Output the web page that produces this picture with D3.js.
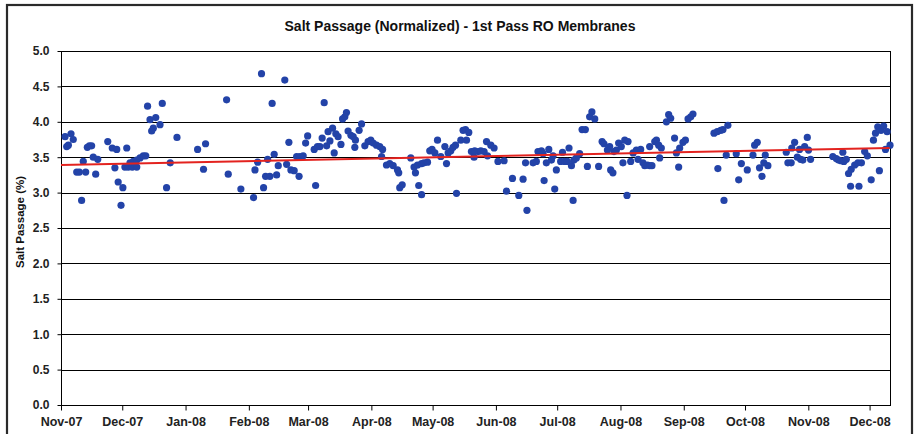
<!DOCTYPE html>
<html><head><meta charset="utf-8">
<script src="https://cdn.jsdelivr.net/npm/d3@7"></script>
<style>
body{margin:0;background:#fff;}
text{font-family:"Liberation Sans",Arial,sans-serif;}
</style>
</head><body>
<svg id="chart" width="915" height="434"></svg>
<script>
// ---- data ----
const chartTitle = "Salt Passage (Normalized) - 1st Pass RO Membranes";
const yAxisTitle = "Salt Passage (%)";
const startDate = new Date(2007, 10, 1);
const endDate = new Date(2008, 11, 11);
const monthLabels = ["Nov-07","Dec-07","Jan-08","Feb-08","Mar-08","Apr-08","May-08","Jun-08","Jul-08","Aug-08","Sep-08","Oct-08","Nov-08","Dec-08"];
const yTickValues = [0,0.5,1,1.5,2,2.5,3,3.5,4,4.5,5];
// days since 1 Nov 2007
const dayOffset = [
2.0,4.9,6.0,3.6,2.8,10.9,7.7,9.0,12.1,10.1,12.9,13.9,15.0,15.8,18.0,17.0,22.9,25.1,27.3,26.4,28.0,30.3,29.4,32.2,31.3,32.9,34.9,37.1,33.8,35.4,37.1,38.7,40.3,41.5,42.4,43.6,46.4,45.2,44.4,48.5,49.6,51.7,53.5,56.8,66.9,70.8,69.8,81.1,81.9,88.1,94.3,98.2,95.0,96.3,99.2,100.2,101.2,103.4,
102.3,109.6,104.4,105.6,106.4,110.5,111.6,112.6,114.2,115.4,116.6,117.0,118.6,119.8,120.8,124.0,124.7,125.6,126.8,127.9,128.9,130.1,130.8,131.7,133.0,133.8,134.6,135.7,137.1,137.9,139.0,139.8,140.6,142.0,143.1,144.2,143.9,146.0,147.2,148.8,150.4,151.7,152.9,154.5,156.1,157.5,157.0,159.4,161.0,162.7,164.8,165.4,165.9,167.1,171.3,172.9,173.6,175.2,176.6,174.6,176.6,177.8,179.5,180.6,181.7,183.1,184.4,186.0,188.0,188.8,189.6,190.9,192.0,193.2,193.7,195.8,196.9,198.1,199.7,198.6,201.0,202.3,204.3,
202.6,205.6,207.2,208.9,208.4,210.5,212.1,214.0,217.0,218.2,221.1,224.2,226.3,227.5,228.2,231.2,232.8,233.6,235.3,236.1,236.6,237.7,238.9,240.2,241.0,241.8,242.6,244.7,245.6,246.7,248.0,248.8,250.0,251.2,250.8,252.4,254.0,255.2,256.8,257.8,258.9,260.0,261.4,263.3,265.0,265.9,267.6,268.7,269.2,270.3,270.8,272.0,273.1,274.4,275.2,276.1,277.7,277.2,279.0,280.2,281.8,282.6,283.9,285.0,285.9,287.2,288.3,289.4,288.3,290.8,291.6,292.7,294.0,293.2,296.5,297.6,298.6,300.5,301.4,302.5,303.0,304.6,305.8,307.1,
308.4,309.5,319.8,321.4,323.1,324.2,326.6,321.7,324.7,325.8,330.7,331.9,333.2,336.1,338.9,339.7,341.0,342.1,343.3,344.2,346.2,344.9,355.2,356.0,357.6,357.9,359.3,360.6,361.7,362.2,363.3,364.2,365.5,366.1,367.1,378.0,379.7,380.8,382.1,383.4,384.6,382.9,385.7,387.0,388.7,390.3,392.0,386.7,390.8,393.6,394.9,396.8,397.9,398.9,400.0,401.6,402.9,404.6,400.8,403.8,406.0
];
const saltPassage = [
3.79,3.83,3.75,3.67,3.65,3.44,3.29,3.29,3.29,2.89,3.64,3.66,3.66,3.50,3.47,3.26,3.72,3.63,3.61,3.35,3.15,3.07,2.82,3.63,3.36,3.36,3.36,3.36,3.42,3.44,3.46,3.49,3.52,3.52,4.22,4.03,4.06,3.91,3.87,3.96,4.26,3.07,3.42,3.78,3.61,3.69,3.33,4.31,3.26,3.05,2.93,4.68,3.32,3.43,3.07,3.23,3.47,4.26,
3.23,4.59,3.54,3.25,3.38,3.40,3.71,3.32,3.31,3.51,3.23,3.51,3.52,3.70,3.80,3.61,3.10,3.65,3.65,3.77,4.27,3.66,3.86,3.73,3.91,3.56,3.83,3.79,3.68,4.04,4.07,4.13,3.87,3.81,3.79,3.74,3.64,3.88,3.97,3.66,3.72,3.74,3.70,3.67,3.65,3.61,3.51,3.39,3.41,3.38,3.32,3.28,3.07,3.11,3.49,3.36,3.28,3.10,2.97,3.39,3.41,3.42,3.43,3.59,3.61,3.56,3.74,3.51,3.65,3.41,3.56,3.59,3.64,3.67,2.99,3.74,3.88,3.89,3.85,3.74,3.58,3.50,3.58,
3.59,3.59,3.58,3.52,3.72,3.67,3.63,3.44,3.45,3.02,3.20,2.96,3.19,3.42,2.75,3.42,3.44,3.58,3.59,3.55,3.17,3.42,3.61,3.46,3.52,3.05,3.32,3.44,3.57,3.44,3.44,3.63,3.38,3.46,2.89,3.49,3.55,3.89,3.89,3.37,4.07,4.14,4.04,3.37,3.72,3.69,3.60,3.65,3.32,3.28,3.58,3.60,3.70,3.65,3.42,3.74,3.72,2.96,3.44,3.56,3.60,3.47,3.61,3.42,3.38,3.39,3.38,3.38,3.65,3.72,3.74,3.67,3.63,3.49,4.00,4.10,4.05,3.77,3.56,3.36,3.63,3.71,3.74,4.04,
4.07,4.11,3.84,3.86,3.88,3.89,3.95,3.34,2.89,3.53,3.55,3.18,3.41,3.32,3.53,3.67,3.71,3.35,3.23,3.42,3.38,3.53,3.57,3.42,3.42,3.63,3.71,3.50,3.61,3.47,3.46,3.65,3.78,3.60,3.47,3.51,3.48,3.46,3.45,3.44,3.47,3.57,3.27,3.33,3.39,3.42,3.42,3.09,3.09,3.58,3.52,3.18,3.74,3.84,3.93,3.88,3.94,3.86,3.31,3.61,3.67
];
const trendDays = [0, 405.8];
const trendValues = [3.39, 3.63];

// ---- layout ----
const svg = d3.select("#chart");
const W = 915, H = 434;
const plot = {left: 61, right: 890, top: 51, bottom: 405};

const x = d3.scaleTime().domain([startDate, endDate]).range([plot.left, plot.right]);
const y = d3.scaleLinear().domain([0, 5]).range([plot.bottom, plot.top]);
const dayToDate = d => new Date(+startDate + d * 864e5);

// outer frame
svg.append("rect").attr("x", 0).attr("y", 0).attr("width", W).attr("height", H).attr("fill", "#fff");
svg.append("rect").attr("x", 7).attr("y", 5).attr("width", 905).attr("height", 445)
  .attr("fill", "none").attr("stroke", "#2a2a2a").attr("stroke-width", 2.2);

// title
svg.append("text").attr("x", 460).attr("y", 31).attr("text-anchor", "middle")
  .attr("font-size", 14).attr("font-weight", "bold").attr("fill", "#111").text(chartTitle);

// y title
svg.append("text").attr("transform", `translate(24,${(plot.top + plot.bottom) / 2 - 6}) rotate(-90)`)
  .attr("text-anchor", "middle").attr("font-size", 11.5).attr("font-weight", "bold").attr("fill", "#111")
  .text(yAxisTitle);

// gridlines
svg.append("g").selectAll("line").data(yTickValues.filter(v => v > 0)).join("line")
  .attr("x1", plot.left).attr("x2", plot.right)
  .attr("y1", d => Math.round(y(d)) + 0.5).attr("y2", d => Math.round(y(d)) + 0.5)
  .attr("stroke", "#000").attr("stroke-width", 1);

// plot border
svg.append("rect").attr("x", plot.left + 0.5).attr("y", Math.round(plot.top) + 0.5)
  .attr("width", plot.right - plot.left).attr("height", plot.bottom - plot.top)
  .attr("fill", "none").attr("stroke", "#000").attr("stroke-width", 1);

// y axis
const yAxis = d3.axisLeft(y).tickValues(yTickValues).tickFormat(d3.format(".1f")).tickSizeOuter(0).tickSize(4).tickPadding(8);
const gy = svg.append("g").attr("transform", `translate(${plot.left + 0.5},0)`).call(yAxis);
gy.select(".domain").remove();
gy.selectAll("line").attr("stroke", "#000");
gy.selectAll("text").attr("font-size", 12).attr("font-weight", "bold").attr("fill", "#222")
  .attr("font-family", "Liberation Sans, Arial, sans-serif");

// x axis
const monthDates = d3.timeMonth.range(startDate, endDate);
const xAxis = d3.axisBottom(x).tickValues(monthDates).tickFormat((d, i) => monthLabels[i]).tickSizeOuter(0).tickSize(5).tickPadding(7);
const gx = svg.append("g").attr("transform", `translate(0,${plot.bottom + 0.5})`).call(xAxis);
gx.select(".domain").remove();
gx.selectAll("line").attr("stroke", "#000");
gx.selectAll("text").attr("font-size", 12.5).attr("font-weight", "bold").attr("fill", "#222")
  .attr("font-family", "Liberation Sans, Arial, sans-serif");

// points
const pts = dayOffset.map((d, i) => ({date: dayToDate(d), v: saltPassage[i]}));
svg.append("g").selectAll("circle").data(pts).join("circle")
  .attr("cx", d => x(d.date)).attr("cy", d => y(d.v)).attr("r", 3.6)
  .attr("fill", "#2343a8");

// trend line
const trend = trendDays.map((d, i) => ({date: dayToDate(d), v: trendValues[i]}));
svg.append("path").datum(trend)
  .attr("d", d3.line().x(d => x(d.date)).y(d => y(d.v)))
  .attr("stroke", "#e3231f").attr("stroke-width", 2).attr("fill", "none");
</script>
</body></html>
